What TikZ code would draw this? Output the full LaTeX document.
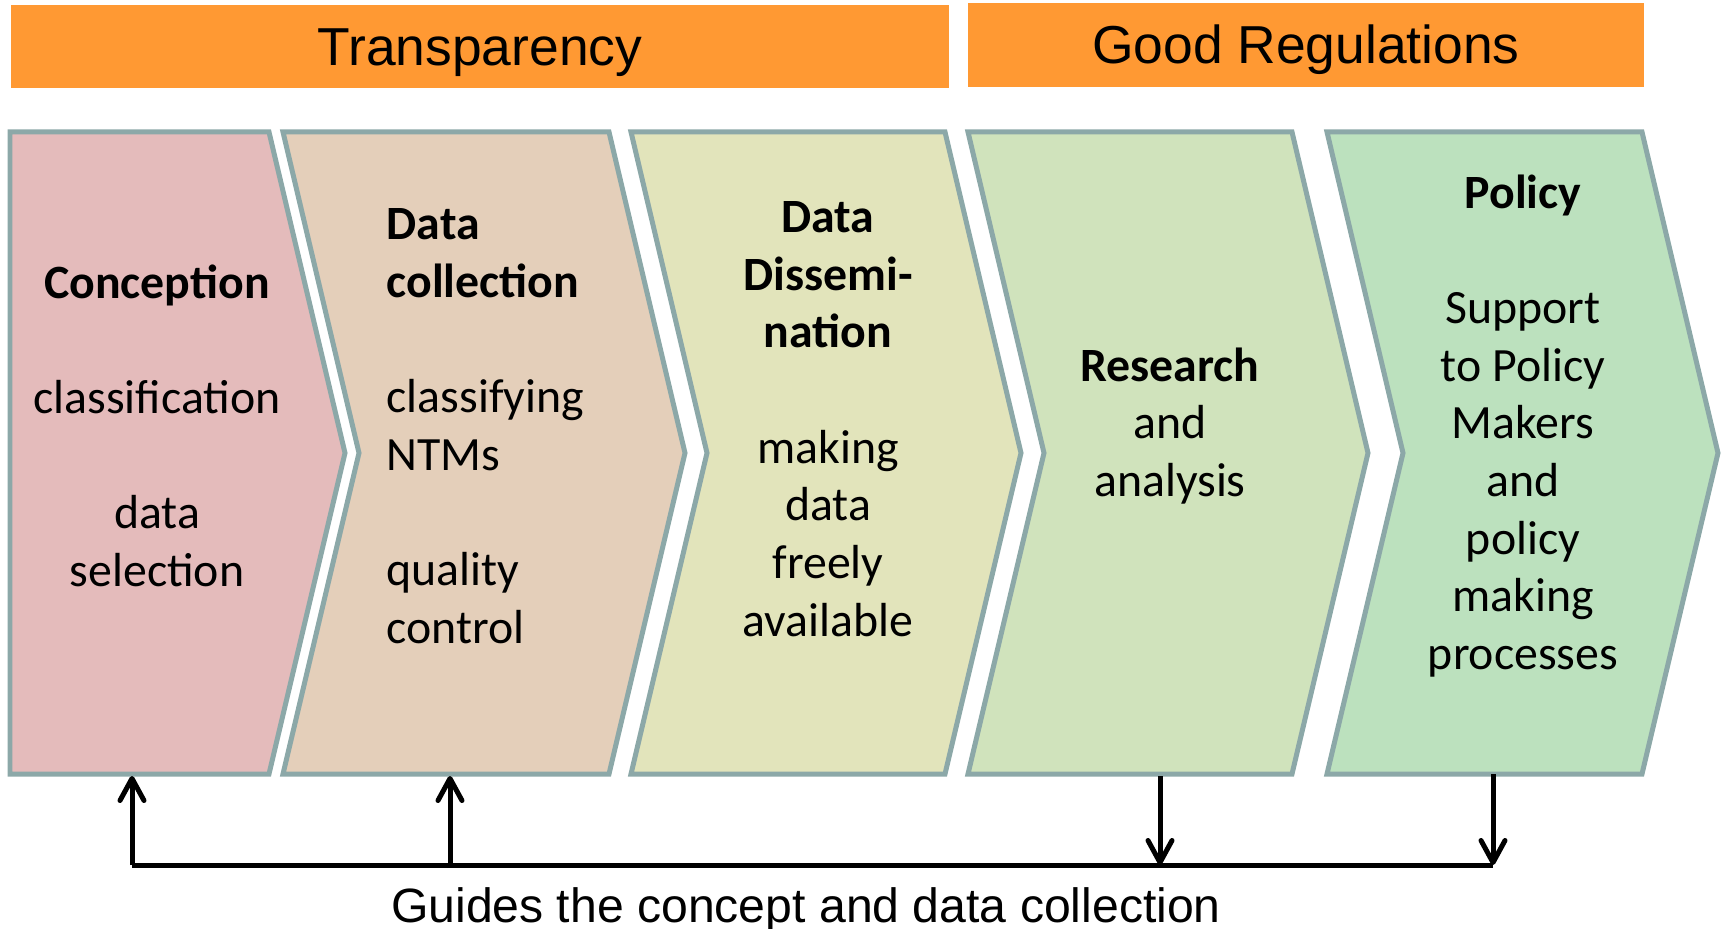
\documentclass[tikz,border=0pt]{standalone}
\usepackage{fontspec}
\setmainfont{Carlito}
\newfontfamily\arialfont{Liberation Sans}
\usetikzlibrary{arrows.meta}
\definecolor{barorange}{RGB}{255,153,51}
\definecolor{chevborder}{RGB}{140,168,168}
\definecolor{conceptfill}{RGB}{228,187,187}
\definecolor{collectfill}{RGB}{228,207,186}
\definecolor{dissemfill}{RGB}{226,228,187}
\definecolor{researchfill}{RGB}{208,227,188}
\definecolor{policyfill}{RGB}{188,225,190}

\begin{document}
\begin{tikzpicture}[x=0.1mm,y=-0.1mm]
\tikzstyle{chev}=[draw=chevborder,line width=0.5mm,line join=miter]
\tikzstyle{bar}=[fill=barorange,inner sep=0pt,text height=3.8mm,text depth=0pt,font=\arialfont\fontsize{15.2}{18}\selectfont]
\tikzstyle{stage}=[inner sep=0pt,anchor=north,align=center,font=\fontsize{13.6}{16.4}\selectfont]
\tikzstyle{guide}=[line width=0.5mm,-{Straight Barb[length=2.2mm,width=2.4mm,round]}]
\useasboundingbox (0,0) rectangle (1721,929);
% headline bars
\node[bar,minimum width=93.8mm,minimum height=8.3mm] (transp) at (480,46.5) {Transparency};
\node[bar,minimum width=67.6mm,minimum height=8.4mm] (goodreg) at (1306,45) {Good Regulations};
% chevrons
\draw[chev,fill=conceptfill] (10,132) -- (269,132) -- (345,453) -- (269,774) -- (10,774) -- cycle;
\draw[chev,fill=collectfill] (283,132) -- (609,132) -- (685,453) -- (609,774) -- (283,774) -- (359,453) -- cycle;
\draw[chev,fill=dissemfill] (631,132) -- (945,132) -- (1021,453) -- (945,774) -- (631,774) -- (707,453) -- cycle;
\draw[chev,fill=researchfill] (968,132) -- (1292,132) -- (1368,453) -- (1292,774) -- (968,774) -- (1044,453) -- cycle;
\draw[chev,fill=policyfill] (1327,132) -- (1642,132) -- (1718,453) -- (1642,774) -- (1327,774) -- (1403,453) -- cycle;
% texts
\node[stage] (concept) at (157,264) {\textbf{Conception}\\[16.4pt] classification\\[16.4pt] data\\ selection};
\node[stage,anchor=north west,align=left] (collect) at (386,208) {\textbf{Data}\\ \textbf{collection}\\[16.4pt] classifying\\ NTMs\\[16.4pt] quality\\ control};
\node[stage] (dissem) at (828,201) {\textbf{Data}\\ \textbf{Dissemi-}\\ \textbf{nation}\\[16.4pt] making\\ data\\ freely\\ available};
\node[stage] (research) at (1170,347) {\textbf{Research}\\ and\\ analysis};
\node[stage] (policy) at (1523,174) {\textbf{Policy}\\[16.4pt] Support\\ to Policy\\ Makers\\ and\\ policy\\ making\\ processes};
% feedback arrows
\coordinate (conceptfoot) at (132,776);
\coordinate (collectfoot) at (450,776);
\coordinate (researchfoot) at (1160,776);
\coordinate (policyfoot) at (1493,774);
\coordinate (busleft) at (132,865);
\coordinate (busmid) at (450,865);
\coordinate (busres) at (1160,865);
\coordinate (busright) at (1493,865);
\draw[line width=0.5mm] (busleft) -- (busright);
\draw[guide] (busleft) -- (conceptfoot);
\draw[guide] (busmid) -- (collectfoot);
\draw[guide] (researchfoot) -- (busres);
\draw[guide] (policyfoot) -- (busright);
\node[inner sep=0pt,text height=3.4mm,text depth=0pt,font=\arialfont\fontsize{13.7}{16}\selectfont] (guidetext) at (806,905) {Guides the concept and data collection};
\end{tikzpicture}
\end{document}
